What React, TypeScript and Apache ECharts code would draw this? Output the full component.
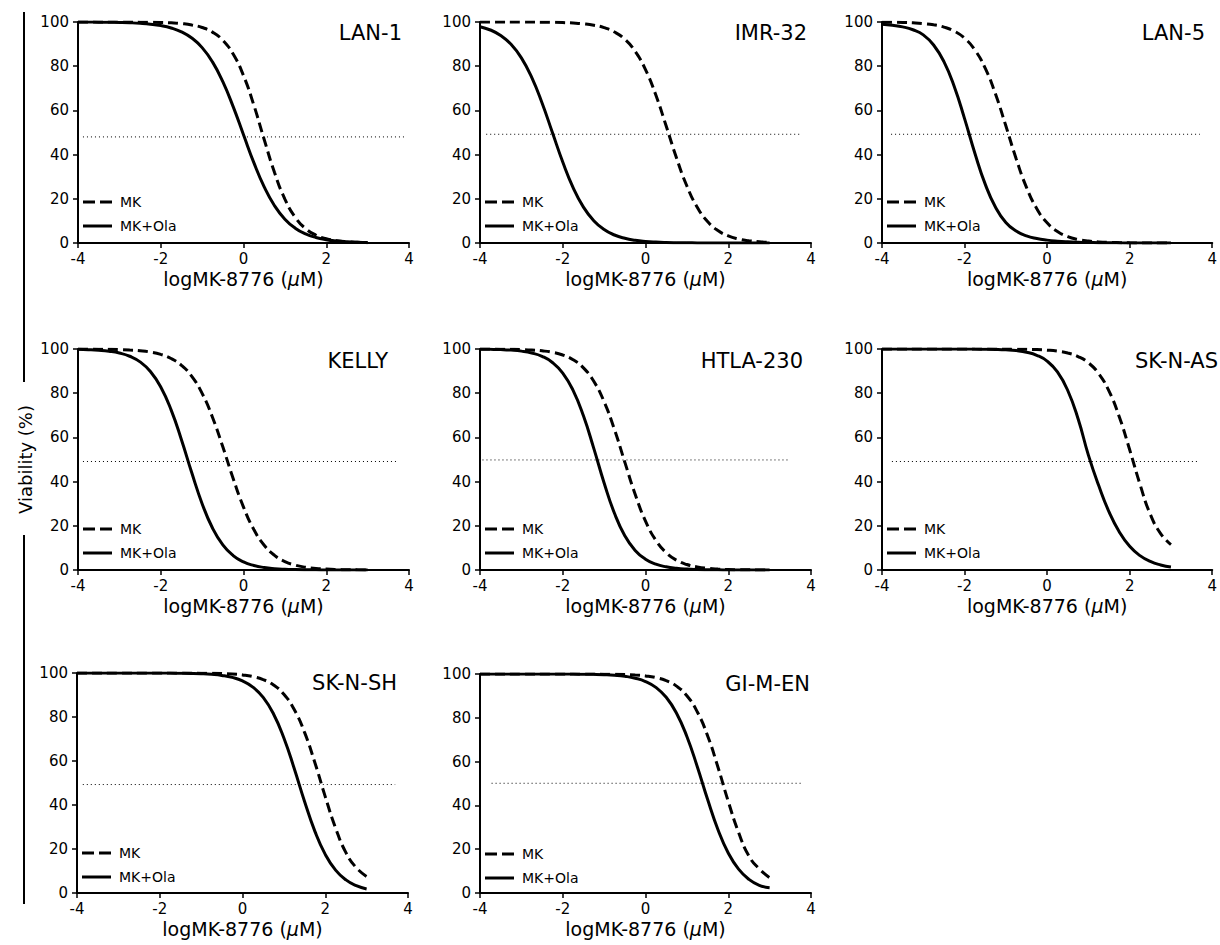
import React, { useEffect, useRef } from "react";
import * as echarts from "echarts";

// ---------- data ----------
const xDose = [
  -4, -3.75, -3.5, -3.25, -3, -2.75, -2.5, -2.25, -2, -1.75, -1.5, -1.25, -1, -0.75, -0.5, -0.25,
  0, 0.25, 0.5, 0.75, 1, 1.25, 1.5, 1.75, 2, 2.25, 2.5, 2.75, 3,
];

const cellLines = ["LAN-1", "IMR-32", "LAN-5", "KELLY", "HTLA-230", "SK-N-AS", "SK-N-SH", "GI-M-EN"];

const mkLAN1 = [100, 100, 100, 99.99, 99.98, 99.97, 99.94, 99.89, 99.8, 99.62, 99.29, 98.67, 97.52, 95.43, 91.73, 85.47, 75.76, 62.38, 46.84, 31.87, 19.89, 11.65, 6.54, 3.58, 1.93, 1.04, 0.55, 0.29, 0.16];
const olaLAN1 = [99.97, 99.96, 99.93, 99.88, 99.79, 99.65, 99.42, 99.03, 98.38, 97.3, 95.55, 92.75, 88.4, 81.95, 73.0, 61.7, 48.97, 36.36, 25.39, 16.86, 10.78, 6.71, 4.11, 2.49, 1.5, 0.9, 0.54, 0.32, 0.19];

const mkIMR32 = [100, 100, 100, 99.99, 99.98, 99.96, 99.92, 99.86, 99.75, 99.55, 99.2, 98.56, 97.44, 95.49, 92.17, 86.74, 78.44, 66.92, 52.93, 38.46, 25.79, 16.19, 9.7, 5.63, 3.21, 1.81, 1.02, 0.57, 0.32];
const olaIMR32 = [97.87, 96.38, 93.9, 89.91, 83.77, 74.91, 63.34, 50, 36.66, 25.09, 16.23, 10.09, 6.1, 3.62, 2.13, 1.24, 0.72, 0.42, 0.24, 0.14, 0.08, 0.05, 0.03, 0.02, 0.01, 0, 0, 0, 0];

const mkLAN5 = [99.94, 99.89, 99.79, 99.62, 99.3, 98.73, 97.7, 95.86, 92.68, 87.37, 79.08, 67.38, 53.02, 38.14, 25.2, 15.55, 9.14, 5.21, 2.91, 1.61, 0.89, 0.49, 0.27, 0.15, 0.08, 0.04, 0.02, 0.01, 0.01];
const olaLAN5 = [99.0, 98.5, 97.8, 96.5, 94.19, 89.6, 82.05, 70.82, 56.3, 40.62, 26.64, 16.16, 9.28, 5.4, 3.2, 2.0, 1.3, 0.85, 0.55, 0.35, 0.22, 0.14, 0.09, 0.06, 0.04, 0.03, 0.02, 0.01, 0];

const mkKELLY = [99.97, 99.96, 99.92, 99.86, 99.75, 99.56, 99.21, 98.61, 97.55, 95.72, 92.64, 87.62, 79.93, 69.12, 55.73, 41.44, 28.47, 18.29, 11.18, 6.61, 3.83, 2.19, 1.24, 0.7, 0.4, 0.22, 0.13, 0.07, 0.04];
const olaKELLY = [99.84, 99.7, 99.45, 99.0, 98.18, 96.72, 94.16, 89.81, 82.8, 72.45, 58.96, 43.97, 30.02, 18.99, 11.35, 6.54, 3.68, 2.05, 1.13, 0.62, 0.34, 0.19, 0.1, 0.06, 0.03, 0.02, 0.01, 0, 0];

const mkHTLA230 = [99.98, 99.96, 99.93, 99.86, 99.75, 99.55, 99.17, 98.5, 97.28, 95.14, 91.45, 85.38, 76.14, 63.55, 48.79, 34.24, 22.14, 13.45, 7.83, 4.43, 2.47, 1.37, 0.75, 0.41, 0.23, 0.12, 0.07, 0.04, 0.02];
const olaHTLA230 = [99.92, 99.85, 99.73, 99.49, 99.04, 98.2, 96.67, 93.91, 89.11, 81.29, 69.76, 55.05, 39.4, 25.66, 15.49, 8.87, 4.91, 2.67, 1.43, 0.77, 0.41, 0.22, 0.12, 0.06, 0.03, 0.02, 0.01, 0, 0];

const mkSKNAS = [100, 100, 100, 100, 100, 100, 100, 100, 100, 100, 99.99, 99.98, 99.96, 99.92, 99.85, 99.72, 99.47, 99.01, 98.16, 96.59, 93.76, 88.86, 80.91, 69.22, 54.42, 38.79, 25.18, 16.5, 11.5];
const olaSKNAS = [100, 100, 100, 100, 100, 100, 100, 99.99, 99.98, 99.95, 99.91, 99.82, 99.63, 99.27, 98.56, 97.17, 94.52, 89.61, 81.22, 68.43, 52.0, 38.2, 26.3, 17.2, 10.7, 6.49, 3.86, 2.27, 1.33];

const mkSKNSH = [100, 100, 100, 100, 100, 100, 100, 100, 100, 100, 100, 99.96, 99.93, 99.86, 99.74, 99.53, 99.12, 98.38, 97.02, 94.58, 90.36, 83.43, 73.0, 59.22, 43.82, 29.52, 18.36, 11.5, 7.5];
const olaSKNSH = [100, 100, 100, 100, 99.99, 99.99, 99.99, 99.98, 99.97, 99.95, 99.9, 99.82, 99.67, 99.39, 98.9, 98.0, 96.4, 93.61, 88.89, 81.38, 70.48, 56.6, 41.62, 28.03, 17.55, 10.42, 5.97, 3.35, 1.86];

const mkGIMEN = [100, 100, 100, 100, 100, 100, 100, 100, 99.99, 99.99, 99.98, 99.96, 99.93, 99.87, 99.75, 99.54, 99.13, 98.38, 96.98, 94.46, 90.06, 82.78, 71.85, 57.54, 41.84, 27.64, 16.86, 11.0, 7.0];
const olaGIMEN = [100, 100, 100, 100, 99.99, 99.99, 99.98, 99.98, 99.97, 99.95, 99.91, 99.83, 99.68, 99.42, 98.95, 98.09, 96.57, 93.89, 89.36, 82.1, 71.48, 57.79, 42.79, 29.02, 18.26, 10.88, 6.25, 3.52, 2.4];

const mkSeries = [mkLAN1, mkIMR32, mkLAN5, mkKELLY, mkHTLA230, mkSKNAS, mkSKNSH, mkGIMEN];
const olaSeries = [olaLAN1, olaIMR32, olaLAN5, olaKELLY, olaHTLA230, olaSKNAS, olaSKNSH, olaGIMEN];

// 50% reference (dotted) line: level and x extent
const refLevel = [48, 49.2, 49.2, 49.1, 49.8, 49.1, 49.3, 50.1];
const refFrom = [-3.88, -3.85, -3.78, -3.88, -3.94, -3.76, -3.86, -3.72];
const refTo = [3.89, 3.72, 3.7, 3.69, 3.5, 3.7, 3.69, 3.81];

const xTicks = { min: -4, max: 4, interval: 2 };
const yTicks = { min: 0, max: 100, interval: 20 };

// ---------- layout ----------
const FONT = "DejaVu Sans";
const W = 1220;
const layout = [
  { left: 78, top: 22, h: 221, titleRight: 402, titleTop: 25 },
  { left: 480, top: 22, h: 221, titleRight: 807, titleTop: 25 },
  { left: 882, top: 22, h: 221, titleRight: 1205, titleTop: 25 },
  { left: 78, top: 349, h: 221, titleRight: 388, titleTop: 353 },
  { left: 480, top: 349, h: 221, titleRight: 803, titleTop: 353 },
  { left: 882, top: 349, h: 221, titleRight: 1218, titleTop: 353 },
  { left: 77, top: 673, h: 220, titleRight: 397, titleTop: 675 },
  { left: 480, top: 674, h: 219, titleRight: 810, titleTop: 676 },
];
const GRID_W = 331;

const ICON_DASHED = "path://M0,0H12V3H0ZM17,0H29V3H17Z";
const ICON_SOLID = "path://M0,0H29V3H0Z";

function buildOption() {
  const grid = layout.map((l) => ({ left: l.left, top: l.top, width: GRID_W, height: l.h }));
  const axisCommon = {
    axisLine: { show: true, onZero: false, lineStyle: { color: "#000", width: 2 } },
    axisTick: { show: true, length: 5, lineStyle: { color: "#000", width: 1.5 } },
    splitLine: { show: false },
  };
  const xAxis = layout.map((_, i) => ({
    type: "value",
    gridIndex: i,
    ...xTicks,
    ...axisCommon,
    axisLabel: { color: "#000", fontSize: 15, fontFamily: FONT, margin: 8 },
    name: "logMK-8776 ({i|μ}M)",
    nameLocation: "middle",
    nameGap: 26,
    nameTextStyle: {
      color: "#000",
      fontSize: 19,
      fontFamily: FONT,
      rich: { i: { fontStyle: "italic", fontSize: 19, fontFamily: FONT, color: "#000" } },
    },
  }));
  const yAxis = layout.map((_, i) => ({
    type: "value",
    gridIndex: i,
    ...yTicks,
    ...axisCommon,
    axisLabel: { color: "#000", fontSize: 15, fontFamily: FONT, margin: 9 },
    ...(i === 3
      ? {
          name: "Viability (%)",
          nameLocation: "middle",
          nameGap: 44,
          nameTextStyle: { color: "#000", fontSize: 18, fontFamily: FONT },
        }
      : {}),
  }));

  const series: any[] = [];
  cellLines.forEach((_, i) => {
    series.push({
      type: "line",
      name: "MK",
      xAxisIndex: i,
      yAxisIndex: i,
      data: xDose.map((x, k) => [x, mkSeries[i][k]]),
      smooth: true,
      symbol: "none",
      lineStyle: { color: "#000", width: 3, type: [10, 5] },
      itemStyle: { color: "#000" },
      z: 3,
    });
    series.push({
      type: "line",
      name: "MK+Ola",
      xAxisIndex: i,
      yAxisIndex: i,
      data: xDose.map((x, k) => [x, olaSeries[i][k]]),
      smooth: true,
      symbol: "none",
      lineStyle: { color: "#000", width: 3, type: "solid" },
      itemStyle: { color: "#000" },
      z: 3,
    });
    series.push({
      type: "line",
      name: "50%",
      xAxisIndex: i,
      yAxisIndex: i,
      data: [
        [refFrom[i], refLevel[i]],
        [refTo[i], refLevel[i]],
      ],
      symbol: "none",
      silent: true,
      lineStyle: { color: "#000", width: 1, type: [1, 3] },
      z: 1,
    });
  });

  const legend = layout.map((l) => ({
    orient: "vertical",
    left: l.left + 5,
    top: l.top + 173,
    padding: 0,
    itemWidth: 29,
    itemHeight: 3,
    itemGap: 10,
    selectedMode: false,
    itemStyle: { color: "#000", borderWidth: 0 },
    data: [
      { name: "MK", icon: ICON_DASHED },
      { name: "MK+Ola", icon: ICON_SOLID },
    ],
    textStyle: { color: "#000", fontSize: 14, fontFamily: FONT, padding: [0, 0, 0, 3], lineHeight: 14 },
  }));

  const title = layout.map((l, i) => ({
    text: cellLines[i],
    right: W - l.titleRight,
    top: l.titleTop - 3,
    padding: 0,
    textStyle: { color: "#000", fontSize: 21, fontWeight: "normal", fontFamily: FONT },
  }));

  const graphic = [
    { type: "line", shape: { x1: 24, y1: 12, x2: 24, y2: 382 }, style: { stroke: "#000", lineWidth: 2 } },
    { type: "line", shape: { x1: 24, y1: 535, x2: 24, y2: 904 }, style: { stroke: "#000", lineWidth: 2 } },
  ];

  return {
    animation: false,
    backgroundColor: "#fff",
    textStyle: { fontFamily: FONT },
    title,
    grid,
    xAxis,
    yAxis,
    legend,
    series,
    graphic,
  };
}

export default function App() {
  const ref = useRef<HTMLDivElement>(null);
  useEffect(() => {
    document.body.style.margin = "0";
    const chart = echarts.init(ref.current!, null, { renderer: "svg" });
    chart.setOption(buildOption() as any);
    return () => chart.dispose();
  }, []);
  return <div ref={ref} style={{ width: 1220, height: 945 }} />;
}
